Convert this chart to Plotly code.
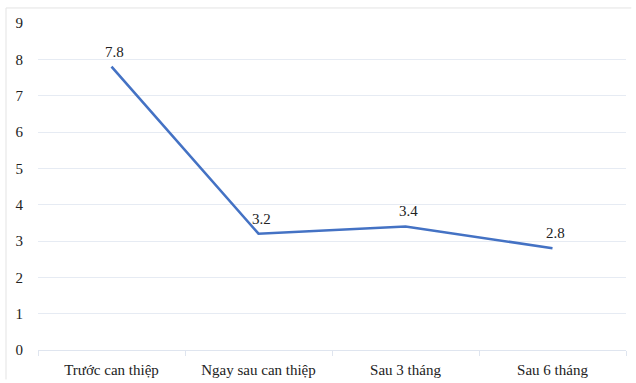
import plotly.graph_objects as go

categories = ["Trước can thiệp", "Ngay sau can thiệp", "Sau 3 tháng", "Sau 6 tháng"]
values = [7.8, 3.2, 3.4, 2.8]
y_ticks = list(range(0, 10))

font_family = "Liberation Serif"

fig = go.Figure(
    go.Scatter(
        x=categories,
        y=values,
        mode="lines",
        line=dict(color="#4472C4", width=2.6),
        cliponaxis=False,
        hoverinfo="skip",
    )
)

# value labels above each point
for cat, v in zip(categories, values):
    fig.add_annotation(
        x=cat, y=v, text=f"{v:.1f}", showarrow=False,
        xshift=3, yshift=15,
        font=dict(family=font_family, size=15, color="#222222"),
    )

fig.update_layout(
    width=636,
    height=383,
    margin=dict(l=38, r=10, t=23, b=33, autoexpand=False),
    paper_bgcolor="white",
    plot_bgcolor="white",
    showlegend=False,
    font=dict(family=font_family, size=14, color="#222222"),
    xaxis=dict(
        type="category",
        range=[-0.5, 3.5],
        tickson="boundaries",
        ticks="outside",
        ticklen=5,
        tickcolor="#dfe5ef",
        showgrid=False,
        showline=True,
        linecolor="#dfe5ef",
        linewidth=1,
        ticklabelstandoff=6,
        tickfont=dict(family=font_family, size=15, color="#222222"),
        zeroline=False,
    ),
    yaxis=dict(
        range=[0, 9],
        tickvals=y_ticks,
        showgrid=True,
        gridcolor="#e6ebf3",
        gridwidth=1,
        zeroline=False,
        showline=False,
        ticks="",
        ticklabelstandoff=14,
        tickfont=dict(family=font_family, size=15, color="#222222"),
    ),
    shapes=[
        dict(type="line", xref="paper", yref="paper",
             x0=-0.0544, x1=1.009, y0=1.046, y1=1.046,
             line=dict(color="#e3e3e3", width=1)),
        dict(type="line", xref="paper", yref="paper",
             x0=-0.0544, x1=-0.0544, y0=1.046, y1=-0.09,
             line=dict(color="#e3e3e3", width=1)),
    ],
)

fig.write_html("out.html")
